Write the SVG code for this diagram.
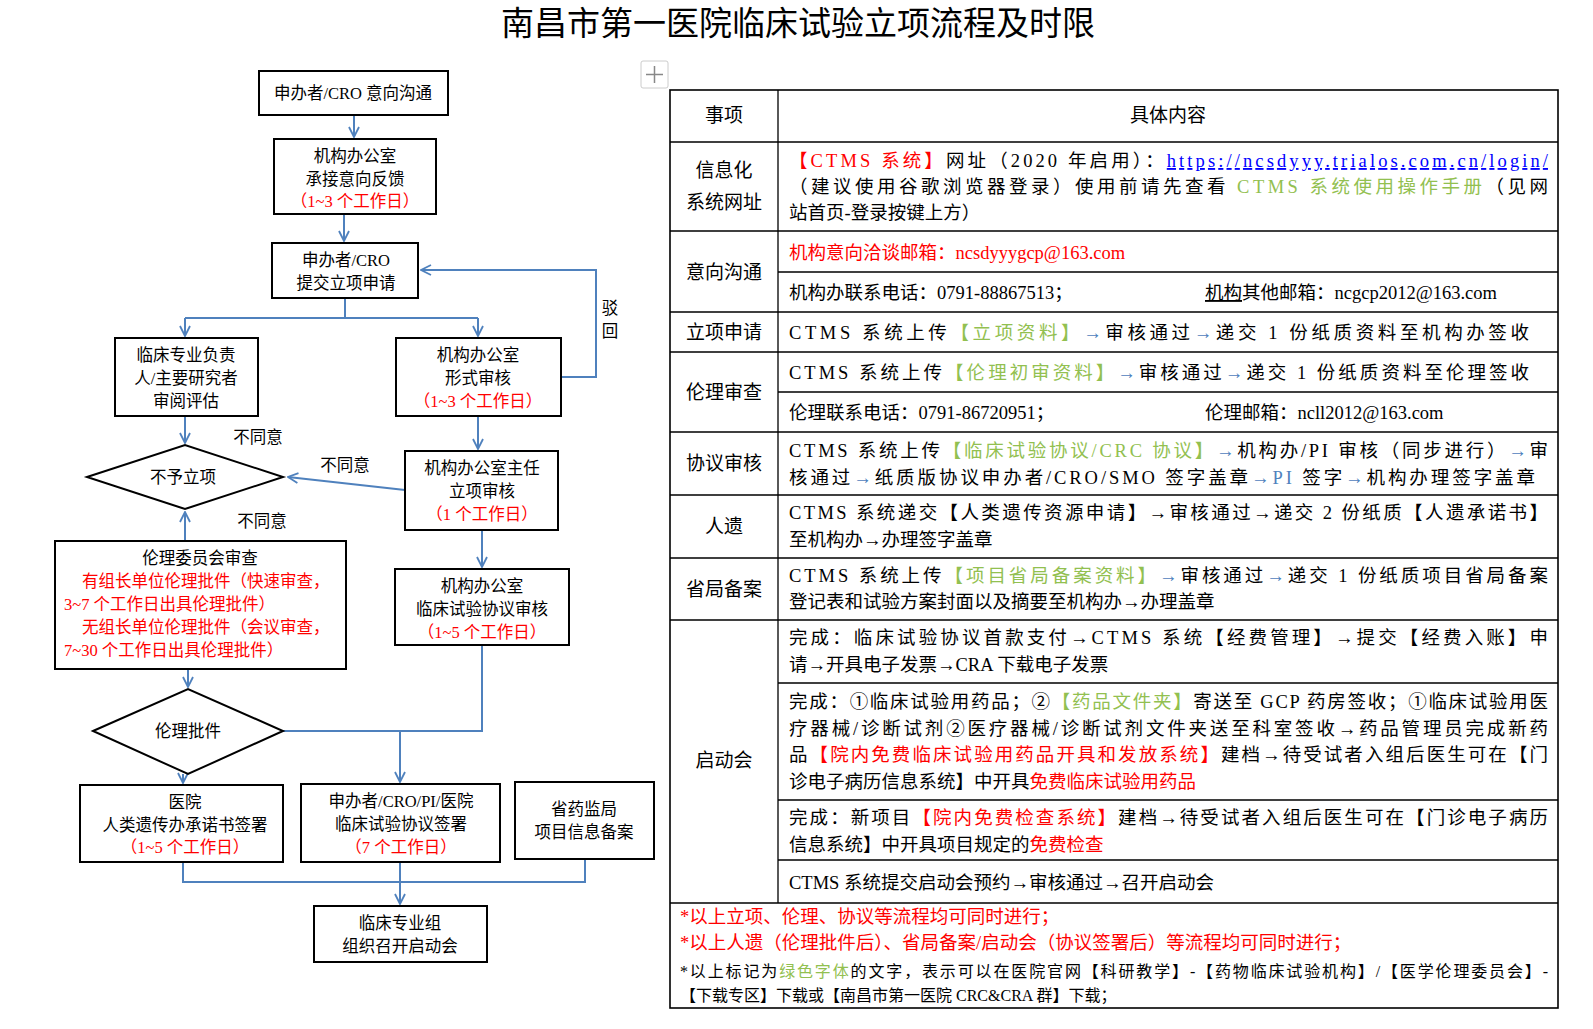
<svg xmlns="http://www.w3.org/2000/svg" width="1593" height="1029" viewBox="0 0 1593 1029">
<style>
text{font-family:"Liberation Serif","Noto Sans CJK SC",serif;fill:#000}
.n{fill:#fff;stroke:#000;stroke-width:2}
.f{font-size:16.5px;text-anchor:middle}
.fs{font-size:16.5px;text-anchor:start}
.r{fill:#f00}
.g{fill:#92c050}
.b{fill:#4f81bd}
.t{font-size:18.5px}
.l{font-size:19px;text-anchor:middle}
.c{fill:none;stroke:#4f81bd;stroke-width:2}
.grid{stroke:#000;stroke-width:1.3}
</style>
<defs>
<marker id="a" viewBox="0 0 12 12" refX="11" refY="6" markerWidth="12" markerHeight="12" markerUnits="userSpaceOnUse" orient="auto">
<path d="M1,1 L11,6 L1,11" fill="none" stroke="#4f81bd" stroke-width="1.8"/>
</marker>
</defs>
<rect width="1593" height="1029" fill="#fff"/>
<text x="798" y="35" font-size="33" text-anchor="middle">南昌市第一医院临床试验立项流程及时限</text>

<g id="move-icon">
<rect x="641" y="61" width="27" height="27" rx="2" fill="#fff" stroke="#ccc"/>
<path d="M654.5,66 V83 M646,74.5 H663" stroke="#888" stroke-width="1.5"/>
</g>

<g id="connectors">
<path class="c" d="M354,115 V137" marker-end="url(#a)"/>
<path class="c" d="M344,214 V241" marker-end="url(#a)"/>
<path class="c" d="M345,298 V318 M185,318 H478"/>
<path class="c" d="M185,318 V336" marker-end="url(#a)"/>
<path class="c" d="M478,318 V336" marker-end="url(#a)"/>
<path class="c" d="M561,377 H596 V270 H421" marker-end="url(#a)"/>
<path class="c" d="M185,416 V443" marker-end="url(#a)"/>
<path class="c" d="M478,416 V449" marker-end="url(#a)"/>
<path class="c" d="M405,490 L288,477" marker-end="url(#a)"/>
<path class="c" d="M185,541 V512" marker-end="url(#a)"/>
<path class="c" d="M482,530 V567" marker-end="url(#a)"/>
<path class="c" d="M188,669 V687" marker-end="url(#a)"/>
<path class="c" d="M283,731 H482 V645"/>
<path class="c" d="M400,731 V782" marker-end="url(#a)"/>
<path class="c" d="M183,774 V783" marker-end="url(#a)"/>
<path class="c" d="M183,862 V882 H585 V859"/>
<path class="c" d="M400,862 V904" marker-end="url(#a)"/>
<text x="610" y="314" font-size="16.5" text-anchor="middle">驳</text>
<text x="610" y="337" font-size="16.5" text-anchor="middle">回</text>
<text x="258" y="443" font-size="16.5" text-anchor="middle">不同意</text>
<text x="345" y="471" font-size="16.5" text-anchor="middle">不同意</text>
<text x="262" y="527" font-size="16.5" text-anchor="middle">不同意</text>
</g>

<g id="n1"><rect class="n" x="259" y="71" width="189" height="44"/>
<text class="f" x="353" y="99">申办者/CRO 意向沟通</text></g>
<g id="n2"><rect class="n" x="274" y="139" width="162" height="75"/>
<text class="f" x="355" y="162">机构办公室</text><text class="f" x="355" y="185">承接意向反馈</text><text class="f r" x="355" y="207">（1~3 个工作日）</text></g>
<g id="n3"><rect class="n" x="272" y="243" width="146" height="55"/>
<text class="f" x="346" y="266">申办者/CRO</text><text class="f" x="346" y="289">提交立项申请</text></g>
<g id="n4"><rect class="n" x="115" y="338" width="143" height="78"/>
<text class="f" x="186" y="361">临床专业负责</text><text class="f" x="186" y="384">人/主要研究者</text><text class="f" x="186" y="407">审阅评估</text></g>
<g id="n5"><rect class="n" x="396" y="338" width="165" height="78"/>
<text class="f" x="478" y="361">机构办公室</text><text class="f" x="478" y="384">形式审核</text><text class="f r" x="478" y="407">（1~3 个工作日）</text></g>
<g id="n6"><path class="n" d="M87,477 L185,445 L283,477 L185,509 Z"/>
<text class="f" x="183" y="483">不予立项</text></g>
<g id="n7"><rect class="n" x="405" y="451" width="153" height="79"/>
<text class="f" x="482" y="474">机构办公室主任</text><text class="f" x="482" y="497">立项审核</text><text class="f r" x="482" y="520">（1 个工作日）</text></g>
<g id="n8"><rect class="n" x="55" y="541" width="291" height="128"/>
<text class="f" x="200" y="564">伦理委员会审查</text>
<text class="fs r" x="82" y="587">有组长单位伦理批件（快速审查，</text>
<text class="fs r" x="64" y="610">3~7 个工作日出具伦理批件）</text>
<text class="fs r" x="82" y="633">无组长单位伦理批件（会议审查，</text>
<text class="fs r" x="64" y="656">7~30 个工作日出具伦理批件）</text></g>
<g id="n9"><rect class="n" x="395" y="569" width="174" height="76"/>
<text class="f" x="482" y="592">机构办公室</text><text class="f" x="482" y="615">临床试验协议审核</text><text class="f r" x="482" y="638">（1~5 个工作日）</text></g>
<g id="n10"><path class="n" d="M93,731 L188,689 L283,731 L188,774 Z"/>
<text class="f" x="188" y="737">伦理批件</text></g>
<g id="n11"><rect class="n" x="80" y="785" width="203" height="77"/>
<text class="f" x="185" y="808">医院</text><text class="f" x="185" y="831">人类遗传办承诺书签署</text><text class="f r" x="185" y="853">（1~5 个工作日）</text></g>
<g id="n12"><rect class="n" x="301" y="784" width="199" height="78"/>
<text class="f" x="401" y="807">申办者/CRO/PI/医院</text><text class="f" x="401" y="830">临床试验协议签署</text><text class="f r" x="401" y="853">（7 个工作日）</text></g>
<g id="n13"><rect class="n" x="515" y="782" width="139" height="77"/>
<text class="f" x="584" y="815">省药监局</text><text class="f" x="584" y="838">项目信息备案</text></g>
<g id="n14"><rect class="n" x="314" y="906" width="173" height="56"/>
<text class="f" x="400" y="929">临床专业组</text><text class="f" x="400" y="952">组织召开启动会</text></g>

<g id="table">
<rect x="670" y="90" width="888" height="918" fill="none" stroke="#000" stroke-width="1.6"/>
<path class="grid" d="M778,90 V903 M670,142 H1558 M670,231 H1558 M778,272 H1558 M670,312 H1558 M670,352 H1558 M778,392 H1558 M670,432 H1558 M670,495 H1558 M670,558 H1558 M670,620 H1558 M778,683 H1558 M778,800 H1558 M778,860 H1558 M670,903 H1558"/>
<text class="l" x="724" y="122">事项</text>
<text class="l" x="1168" y="122">具体内容</text>
<text class="l" x="724" y="177">信息化</text><text class="l" x="724" y="209">系统网址</text>
<text class="l" x="724" y="279">意向沟通</text>
<text class="l" x="724" y="339">立项申请</text>
<text class="l" x="724" y="399">伦理审查</text>
<text class="l" x="724" y="470">协议审核</text>
<text class="l" x="724" y="533">人遗</text>
<text class="l" x="724" y="596">省局备案</text>
<text class="l" x="724" y="767">启动会</text>

<text class="t" x="789" y="167" textLength="759"><tspan class="r">【CTMS 系统】</tspan>网址（2020 年启用）：<tspan fill="#00f" text-decoration="underline">https://ncsdyyy.trialos.com.cn/login/</tspan></text>
<text class="t" x="789" y="193" textLength="759">（建议使用谷歌浏览器登录）使用前请先查看 <tspan class="g">CTMS 系统使用操作手册</tspan>（见网</text>
<text class="t" x="789" y="219">站首页-登录按键上方）</text>
<text class="t" x="789" y="259"><tspan class="r">机构意向洽谈邮箱：ncsdyyygcp@163.com</tspan></text>
<text class="t" x="789" y="299">机构办联系电话：0791-88867513；</text>
<text class="t" x="1205" y="299"><tspan text-decoration="underline">机构</tspan>其他邮箱：ncgcp2012@163.com</text>
<text class="t" x="789" y="339" textLength="740">CTMS 系统上传<tspan class="g">【立项资料】</tspan><tspan class="b">→</tspan>审核通过<tspan class="b">→</tspan>递交 1 份纸质资料至机构办签收</text>
<text class="t" x="789" y="379" textLength="740">CTMS 系统上传<tspan class="g">【伦理初审资料】</tspan><tspan class="b">→</tspan>审核通过<tspan class="b">→</tspan>递交 1 份纸质资料至伦理签收</text>
<text class="t" x="789" y="419">伦理联系电话：0791-86720951；</text>
<text class="t" x="1205" y="419">伦理邮箱：ncll2012@163.com</text>
<text class="t" x="789" y="457" textLength="759">CTMS 系统上传<tspan class="g">【临床试验协议/CRC 协议】</tspan><tspan class="b">→</tspan>机构办/PI 审核（同步进行）<tspan class="b">→</tspan>审</text>
<text class="t" x="789" y="484" textLength="746">核通过<tspan class="b">→</tspan>纸质版协议申办者/CRO/SMO 签字盖章<tspan class="b">→PI</tspan> 签字<tspan class="b">→</tspan>机构办理签字盖章</text>
<text class="t" x="789" y="519" textLength="759">CTMS 系统递交【人类遗传资源申请】→审核通过→递交 2 份纸质【人遗承诺书】</text>
<text class="t" x="789" y="546">至机构办→办理签字盖章</text>
<text class="t" x="789" y="582" textLength="759">CTMS 系统上传<tspan class="g">【项目省局备案资料】</tspan><tspan class="b">→</tspan>审核通过<tspan class="b">→</tspan>递交 1 份纸质项目省局备案</text>
<text class="t" x="789" y="608">登记表和试验方案封面以及摘要至机构办→办理盖章</text>
<text class="t" x="789" y="644" textLength="759">完成：临床试验协议首款支付→CTMS 系统【经费管理】→提交【经费入账】申</text>
<text class="t" x="789" y="671">请→开具电子发票→CRA 下载电子发票</text>
<text class="t" x="789" y="708" textLength="759">完成：①临床试验用药品；②<tspan class="g">【药品文件夹】</tspan>寄送至 GCP 药房签收；①临床试验用医</text>
<text class="t" x="789" y="735" textLength="759">疗器械/诊断试剂②医疗器械/诊断试剂文件夹送至科室签收→药品管理员完成新药</text>
<text class="t" x="789" y="761" textLength="759">品<tspan class="r">【院内免费临床试验用药品开具和发放系统】</tspan>建档→待受试者入组后医生可在【门</text>
<text class="t" x="789" y="788">诊电子病历信息系统】中开具<tspan class="r">免费临床试验用药品</tspan></text>
<text class="t" x="789" y="824" textLength="759">完成：新项目<tspan class="r">【院内免费检查系统】</tspan>建档→待受试者入组后医生可在【门诊电子病历</text>
<text class="t" x="789" y="851">信息系统】中开具项目规定的<tspan class="r">免费检查</tspan></text>
<text class="t" x="789" y="889">CTMS 系统提交启动会预约→审核通过→召开启动会</text>
<text class="t r" x="680" y="923">*以上立项、伦理、协议等流程均可同时进行；</text>
<text class="t r" x="680" y="949">*以上人遗（伦理批件后）、省局备案/启动会（协议签署后）等流程均可同时进行；</text>
<text x="680" y="977" font-size="16" textLength="868">*以上标记为<tspan class="g">绿色字体</tspan>的文字，表示可以在医院官网【科研教学】-【药物临床试验机构】/【医学伦理委员会】-</text>
<text x="680" y="1001" font-size="16">【下载专区】下载或【南昌市第一医院 CRC&amp;CRA 群】下载；</text>
</g>
</svg>
